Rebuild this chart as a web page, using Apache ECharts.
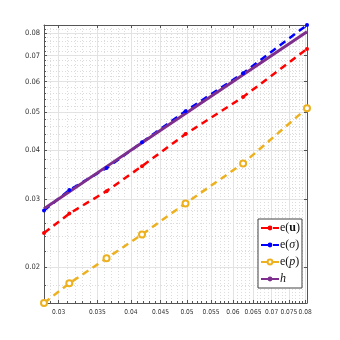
<!DOCTYPE html>
<html>
<head>
  <meta charset="UTF-8">
  <title>log-log error chart</title>
  <script src="https://cdn.jsdelivr.net/npm/echarts@6/dist/echarts.min.js"></script>
  <style>
    html, body { margin: 0; padding: 0; background: #fff; }
    #main { width: 340px; height: 340px; }
  </style>
</head>
<body>
  <div id="main"></div>
  <script type="text/javascript">
    // mesh sizes (x) and errors (y)
    var hVals = [0.0283, 0.0313, 0.0363, 0.0418, 0.0497, 0.0625, 0.0806];
    var errU = [0.0245, 0.0275, 0.0314, 0.0364, 0.0440, 0.0548, 0.0728];
    var errSigma = [0.0280, 0.0316, 0.0360, 0.0419, 0.0504, 0.0631, 0.0839];
    var errP = [0.0162, 0.0182, 0.0211, 0.0243, 0.0292, 0.0370, 0.0513];
    var hLine = [0.0283, 0.0313, 0.0363, 0.0418, 0.0497, 0.0625, 0.0806];

    // x tick labels split in two sets so neighbours never get dropped
    var xTicksA = [0.03, 0.04, 0.05, 0.06, 0.07, 0.08];
    var xTicksB = [0.035, 0.045, 0.055, 0.065, 0.075];
    var xTicks = xTicksA.concat(xTicksB);
    var yTicks = [0.02, 0.03, 0.04, 0.05, 0.06, 0.07, 0.08];
    var xMinor = [0.029, 0.031, 0.032, 0.033, 0.034, 0.036, 0.037, 0.038, 0.039,
      0.041, 0.042, 0.043, 0.044, 0.046, 0.047, 0.048, 0.049, 0.051, 0.052, 0.053, 0.054,
      0.056, 0.057, 0.058, 0.059, 0.061, 0.062, 0.063, 0.064, 0.066, 0.067, 0.068, 0.069,
      0.071, 0.072, 0.073, 0.074, 0.076, 0.077, 0.078, 0.079];
    var yMinor = [0.016, 0.018, 0.022, 0.024, 0.026, 0.028, 0.032, 0.034, 0.036, 0.038,
      0.042, 0.044, 0.046, 0.048, 0.052, 0.054, 0.056, 0.058, 0.062, 0.064, 0.066, 0.068,
      0.072, 0.074, 0.076, 0.078, 0.082];

    var lg = Math.log10;
    function pairs(ys) {
      return hVals.map(function (x, i) { return [lg(x), lg(ys[i])]; });
    }
    function fmt(v) {
      return String(parseFloat(Math.pow(10, v).toPrecision(3)));
    }

    var xMin = lg(0.0283), xMax = lg(0.0806);
    var yMin = lg(0.0162), yMax = lg(0.0839);
    var frame = '#555';
    var labelFont = { color: '#333', fontSize: 6.6, fontFamily: 'DejaVu Sans Condensed' };

    var legendNames = {
      'e(u)': 'e({b|u})',
      'e(σ)': 'e({i|σ})',
      'e(p)': 'e({i|p})',
      'h': '{i|h}'
    };

    var myChart = echarts.init(document.getElementById('main'));
    var option = {
      backgroundColor: '#fff',
      animation: false,
      grid: { left: 44, right: 33, top: 25, bottom: 37 },
      legend: {
        orient: 'vertical',
        left: 258,
        top: 219,
        itemWidth: 18,
        itemHeight: 6,
        itemGap: 5,
        padding: [3, 2, 3, 2],
        backgroundColor: '#fff',
        borderColor: '#444',
        borderWidth: 1,
        borderRadius: 0,
        data: ['e(u)', 'e(σ)', 'e(p)', 'h'],
        formatter: function (name) { return legendNames[name]; },
        textStyle: {
          fontFamily: 'Liberation Serif',
          fontSize: 12,
          color: '#111',
          padding: [0, 0, 0, -4],
          rich: {
            b: { fontFamily: 'Liberation Serif', fontSize: 12, fontWeight: 'bold', color: '#111' },
            i: { fontFamily: 'Liberation Serif', fontSize: 12, fontStyle: 'italic', color: '#111' }
          }
        }
      },
      xAxis: [
        {
          type: 'value', position: 'bottom', min: xMin, max: xMax,
          axisLine: { onZero: false, lineStyle: { color: frame } },
          axisTick: { inside: true, length: 3, customValues: xTicks.map(lg), lineStyle: { color: frame } },
          axisLabel: {
            customValues: xTicksA.map(lg), formatter: fmt, margin: 6,
            showMinLabel: true, showMaxLabel: true, hideOverlap: false, ...labelFont
          },
          splitLine: { show: true, lineStyle: { color: '#e3e3e3', width: 1 } }
        },
        {
          type: 'value', position: 'bottom', min: xMin, max: xMax,
          axisLine: { show: false, onZero: false },
          axisTick: { show: true, inside: true, length: 2, customValues: xMinor.map(lg), lineStyle: { color: frame } },
          axisLabel: { show: false },
          splitLine: { show: true, lineStyle: { color: '#dcdcdc', type: [1, 2], width: 1 } }
        },
        {
          type: 'value', position: 'top', min: xMin, max: xMax,
          axisLine: { onZero: false, lineStyle: { color: frame } },
          axisTick: { inside: true, length: 3, customValues: xTicks.map(lg), lineStyle: { color: frame } },
          axisLabel: { show: false },
          splitLine: { show: false }
        },
        {
          type: 'value', position: 'bottom', min: xMin, max: xMax,
          axisLine: { show: false, onZero: false },
          axisTick: { show: false },
          axisLabel: {
            customValues: xTicksB.map(lg), formatter: fmt, margin: 6,
            showMinLabel: true, showMaxLabel: true, hideOverlap: false, ...labelFont
          },
          splitLine: { show: false }
        }
      ],
      yAxis: [
        {
          type: 'value', position: 'left', min: yMin, max: yMax,
          axisLine: { show: true, onZero: false, lineStyle: { color: frame } },
          axisTick: { show: true, inside: true, length: 3, customValues: yTicks.map(lg), lineStyle: { color: frame } },
          axisLabel: {
            customValues: yTicks.map(lg), formatter: fmt, margin: 4,
            showMinLabel: true, showMaxLabel: true, ...labelFont, fontSize: 7.5
          },
          splitLine: { show: true, lineStyle: { color: '#e3e3e3', width: 1 } }
        },
        {
          type: 'value', position: 'left', min: yMin, max: yMax,
          axisLine: { show: false, onZero: false },
          axisTick: { show: true, inside: true, length: 2, customValues: yMinor.map(lg), lineStyle: { color: frame } },
          axisLabel: { show: false },
          splitLine: { show: true, lineStyle: { color: '#dcdcdc', type: [1, 2], width: 1 } }
        },
        {
          type: 'value', position: 'right', min: yMin, max: yMax,
          axisLine: { show: true, onZero: false, lineStyle: { color: frame } },
          axisTick: { show: true, inside: true, length: 3, customValues: yTicks.map(lg), lineStyle: { color: frame } },
          axisLabel: { show: false },
          splitLine: { show: false }
        }
      ],
      series: [
        {
          name: 'e(u)', type: 'line', data: pairs(errU),
          symbol: 'circle', symbolSize: 4,
          itemStyle: { color: '#ff0000' },
          lineStyle: { color: '#ff0000', width: 2.5, type: [7, 5] }
        },
        {
          name: 'e(σ)', type: 'line', data: pairs(errSigma),
          symbol: 'circle', symbolSize: 4,
          itemStyle: { color: '#0000ff' },
          lineStyle: { color: '#0000ff', width: 2.5, type: [7, 5] }
        },
        {
          name: 'e(p)', type: 'line', data: pairs(errP),
          symbol: 'emptyCircle', symbolSize: 6,
          itemStyle: { color: '#edb120', borderWidth: 1.5 },
          lineStyle: { color: '#edb120', width: 2.5, type: [7, 5] }
        },
        {
          name: 'h', type: 'line', data: pairs(hLine),
          symbol: 'none',
          itemStyle: { color: '#7e2f8e' },
          lineStyle: { color: '#7e2f8e', width: 3 }
        }
      ]
    };
    myChart.setOption(option);
  </script>
</body>
</html>
